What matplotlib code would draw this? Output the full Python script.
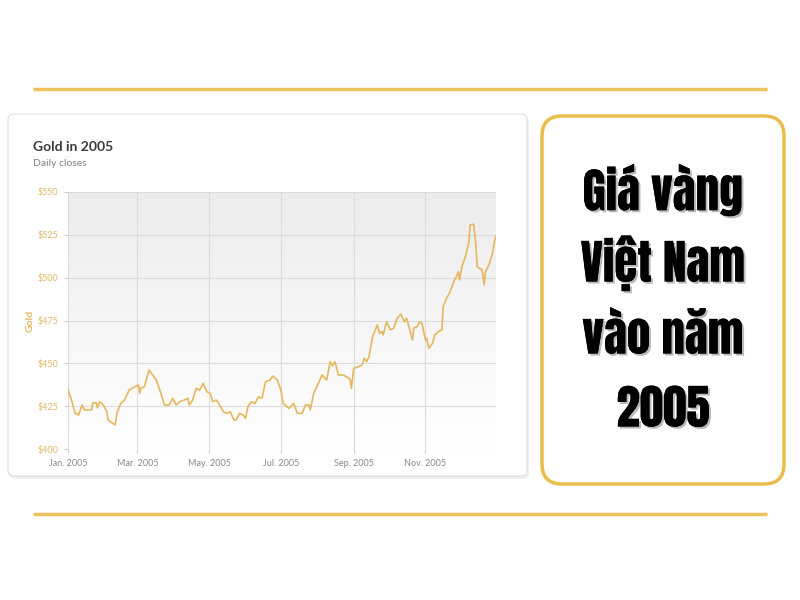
import matplotlib.pyplot as plt
import matplotlib.patheffects as pe
from matplotlib.colors import LinearSegmentedColormap
from matplotlib.patches import FancyBboxPatch
import numpy as np
import pandas as pd

# Daily closes (date, USD/oz)
dates = [
    "2005-01-01", "2005-01-04", "2005-01-07", "2005-01-10", "2005-01-13", "2005-01-15",
    "2005-01-21", "2005-01-22", "2005-01-25", "2005-01-26", "2005-01-28", "2005-01-31",
    "2005-02-03", "2005-02-04", "2005-02-08", "2005-02-10", "2005-02-12", "2005-02-15",
    "2005-02-18", "2005-02-22", "2005-02-27", "2005-03-02", "2005-03-03", "2005-03-04",
    "2005-03-07", "2005-03-11", "2005-03-14", "2005-03-17", "2005-03-18", "2005-03-21",
    "2005-03-24", "2005-03-28", "2005-03-31", "2005-04-03", "2005-04-06", "2005-04-10",
    "2005-04-13", "2005-04-14", "2005-04-17", "2005-04-20", "2005-04-23", "2005-04-26",
    "2005-04-29", "2005-05-02", "2005-05-04", "2005-05-07", "2005-05-10", "2005-05-13",
    "2005-05-16", "2005-05-19", "2005-05-22", "2005-05-24", "2005-05-27", "2005-05-30",
    "2005-06-01", "2005-06-03", "2005-06-06", "2005-06-09", "2005-06-12", "2005-06-15",
    "2005-06-18", "2005-06-22", "2005-06-24", "2005-06-28", "2005-07-01", "2005-07-03",
    "2005-07-08", "2005-07-12", "2005-07-15", "2005-07-19", "2005-07-22", "2005-07-25",
    "2005-07-26", "2005-07-29", "2005-08-02", "2005-08-05", "2005-08-09", "2005-08-12",
    "2005-08-14", "2005-08-16", "2005-08-19", "2005-08-23", "2005-08-28", "2005-08-29",
    "2005-08-30", "2005-09-01", "2005-09-05", "2005-09-08", "2005-09-10", "2005-09-12",
    "2005-09-14", "2005-09-17", "2005-09-21", "2005-09-23", "2005-09-25", "2005-09-26",
    "2005-09-29", "2005-10-02", "2005-10-05", "2005-10-08", "2005-10-11", "2005-10-14",
    "2005-10-16", "2005-10-19", "2005-10-21", "2005-10-22", "2005-10-25", "2005-10-27",
    "2005-10-29", "2005-11-01", "2005-11-02", "2005-11-04", "2005-11-07", "2005-11-09",
    "2005-11-12", "2005-11-15", "2005-11-16", "2005-11-19", "2005-11-22", "2005-11-25",
    "2005-11-28", "2005-11-29", "2005-11-30", "2005-12-02", "2005-12-05", "2005-12-08",
    "2005-12-09", "2005-12-12", "2005-12-14", "2005-12-15", "2005-12-18", "2005-12-19",
    "2005-12-21", "2005-12-22", "2005-12-25", "2005-12-28", "2005-12-30", "2005-12-31",
]
prices = [
    434.5, 428.6, 421.0, 419.8, 425.7, 422.8,
    422.8, 426.9, 427.0, 424.0, 427.6, 425.7,
    421.8, 417.0, 415.0, 414.0, 421.8, 426.7,
    428.6, 434.4, 436.4, 437.4, 432.5, 435.4,
    436.4, 446.1, 443.2, 440.3, 438.4, 432.5,
    425.7, 425.7, 429.6, 425.7, 427.6, 428.6,
    429.6, 425.7, 428.6, 435.4, 434.4, 438.4,
    433.5, 432.5, 427.6, 428.6, 425.7, 421.8,
    420.8, 421.8, 417.0, 417.0, 420.8, 419.8,
    417.9, 424.7, 427.6, 426.6, 430.5, 429.6,
    439.3, 440.3, 442.6, 440.3, 434.4, 426.6,
    423.7, 426.6, 420.8, 420.8, 425.7, 425.7,
    422.8, 432.5, 438.4, 443.2, 440.3, 451.0,
    448.5, 451.0, 443.2, 443.2, 441.3, 440.3,
    435.4, 447.1, 448.0, 449.0, 452.9, 451.0,
    453.9, 465.6, 472.4, 467.5, 468.5, 466.6,
    474.3, 469.5, 470.5, 476.3, 478.8, 474.3,
    476.3, 468.5, 463.6, 470.5, 471.4, 474.3,
    473.4, 463.6, 464.6, 458.8, 461.7, 466.6,
    468.5, 469.5, 483.0, 488.0, 491.8, 497.7,
    501.6, 503.5, 498.7, 506.4, 512.3, 521.0,
    530.8, 531.2, 518.1, 506.4, 504.9, 504.9,
    495.7, 503.5, 507.4, 514.2, 522.0, 524.3,
]
tick_dates = ["2005-01-01", "2005-03-01", "2005-05-01", "2005-07-01", "2005-09-01", "2005-11-01"]
tick_labels = ["Jan. 2005", "Mar. 2005", "May. 2005", "Jul. 2005", "Sep. 2005", "Nov. 2005"]
y_ticks = [400, 425, 450, 475, 500, 525, 550]
headline = ["Giá vàng", "Việt Nam", "vào năm", "2005"]

gold = "#ecc25a"
line_gold = "#e6b75e"
label_gold = "#e2b865"

fig = plt.figure(figsize=(8, 6), dpi=100)
fig.patch.set_facecolor("white")

# background layer in pixel coordinates
bg = fig.add_axes([0, 0, 1, 1])
bg.set_xlim(0, 800)
bg.set_ylim(600, 0)
bg.axis("off")

bg.plot([33, 767], [89, 89], color=gold, lw=2.5, solid_capstyle="butt")
bg.plot([33, 767], [514, 514], color=gold, lw=2.5, solid_capstyle="butt")

# chart card with a soft shadow
bg.add_patch(FancyBboxPatch((10, 117), 519, 362, boxstyle="round,pad=0,rounding_size=6",
                            fc="#e4e4e4", ec="none", alpha=0.6))
bg.add_patch(FancyBboxPatch((8, 114), 519, 362, boxstyle="round,pad=0,rounding_size=6",
                            fc="white", ec="#dddddd", lw=0.8))
bg.text(33, 147, "Gold in 2005", fontsize=10, fontweight="bold", color="#3a3a3a",
        family="Lato", va="center")
bg.text(33, 164, "Daily closes", fontsize=7.5, color="#808080", family="Lato", va="center")

# right headline box
bg.add_patch(FancyBboxPatch((542, 116), 242, 368, boxstyle="round,pad=0,rounding_size=20",
                            fc="white", ec="#e8bd4e", lw=2.5))
for i, line in enumerate(headline):
    bg.text(663, 190 + i * 73, line, fontsize=34, color="black",
            family=["Anton", "Oswald", "DejaVu Sans"], ha="center", va="center",
            path_effects=[pe.withSimplePatchShadow(offset=(1.5, -1.5), shadow_rgbFace="#666666", alpha=0.45),
                          pe.Normal()])

# chart axes
ax = fig.add_axes([68 / 800, (600 - 449) / 600, 428 / 800, 257 / 600])
x = pd.to_datetime(dates)
grad = np.linspace(1.0, 0.0, 256).reshape(-1, 1)
ax.imshow(grad, cmap=LinearSegmentedColormap.from_list("g", ["#ffffff", "#ececec"]),
          extent=[0, 1, 0, 1], transform=ax.transAxes, aspect="auto", zorder=0)
ax.plot(x, prices, color=line_gold, lw=1.2, zorder=3)

ax.set_xlim(pd.Timestamp("2005-01-01"), pd.Timestamp("2005-12-31"))
ax.set_ylim(400, 550)
ax.set_xticks(pd.to_datetime(tick_dates))
ax.set_xticklabels(tick_labels, fontsize=6.5, color="#888888", family="Lato")
ax.set_yticks(y_ticks)
ax.set_yticklabels([f"${v}" for v in y_ticks], fontsize=6.5, color=label_gold, family="Lato")
ax.grid(True, color="#dcdcdc", lw=0.8, zorder=1)
ax.set_axisbelow(True)
for s in ax.spines.values():
    s.set_visible(False)
ax.tick_params(axis="both", length=3, color="#cccccc", pad=4)
ax.set_ylabel("Gold", fontsize=7.5, color=label_gold, fontweight="bold", family="Lato", labelpad=2)

fig.savefig("out.png", dpi=100, facecolor="white")
